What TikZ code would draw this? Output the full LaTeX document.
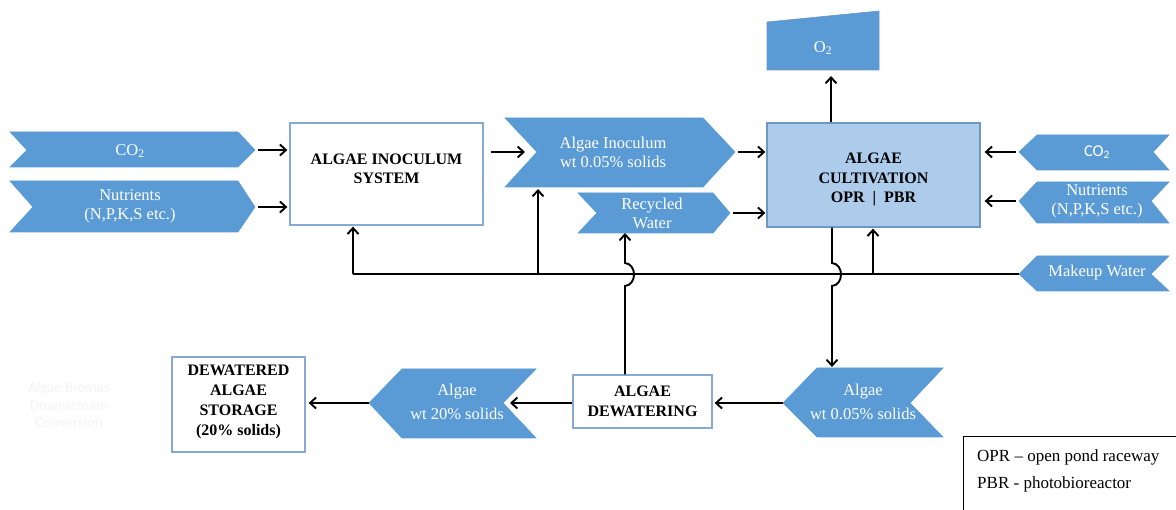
\documentclass[tikz,border=0pt]{standalone}
\usepackage{fontspec}
\setmainfont{Liberation Serif}
\newfontfamily\carl{Carlito}
\usetikzlibrary{arrows.meta}
\definecolor{chev}{HTML}{5B9BD5}
\definecolor{boxline}{HTML}{86A9D6}
\definecolor{cultfill}{HTML}{ADCBEA}
\definecolor{cultline}{HTML}{6E97C6}
\definecolor{faint}{HTML}{F3F4F6}
\begin{document}
\begin{tikzpicture}[x=1pt,y=-1pt,
  chevshape/.style={fill=chev, draw=chev, line width=0.6pt},
  chevtext/.style={text=white, align=center, font=\fontsize{16.5}{19}\selectfont, inner sep=0pt},
  chevtextwide/.style={text=white, align=center, font=\fontsize{16.5}{24}\selectfont, inner sep=0pt},
  boxtitle/.style={align=center, font=\bfseries\fontsize{16}{19.5}\selectfont, inner sep=0pt},
  whitebox/.style={draw=boxline, fill=white, line width=1.3pt, inner sep=0pt},
  flowarrow/.style={line width=1.9pt, -{Straight Barb[length=6pt,width=11pt]}},
  plainline/.style={line width=1.9pt},
  legendtext/.style={anchor=west, inner sep=0pt, font=\fontsize{17}{20}\selectfont}
]
\useasboundingbox (0,0) rectangle (1176,510);
\fill[white] (0,0) rectangle (1176,510);

% faint text
\node[text=faint, align=center, inner sep=0pt, font=\carl\fontsize{15}{17.5}\selectfont] (faintnote) at (69,405) {Algae  Biomas\\Downstream\\Conversion};

% left inputs
\fill[chevshape] (10,132) -- (238,132) -- (255,150) -- (238,167) -- (10,167) -- (27,150) -- cycle;
\node[chevtext] (co2L) at (130,151) {CO\textsubscript{2}};
\coordinate (co2Ltip) at (255,150);
\fill[chevshape] (10,181) -- (238,181) -- (255,207) -- (238,232) -- (10,232) -- (33,207) -- cycle;
\node[chevtext] (nutL) at (130,206) {Nutrients\\(N,P,K,S etc.)};
\coordinate (nutLtip) at (255,207);

% inoculum system
\node[whitebox, minimum width=193pt, minimum height=102pt] (inoc) at (386.5,174) {};
\node[boxtitle] (inoclabel) at (386.5,169) {ALGAE INOCULUM\\SYSTEM};

\draw[flowarrow, shorten <=3pt, shorten >=2pt] (co2Ltip) -- (inoc.west |- co2Ltip);
\draw[flowarrow, shorten <=3pt, shorten >=2pt] (nutLtip) -- (inoc.west |- nutLtip);

% algae inoculum chevron
\fill[chevshape] (505,118) -- (703,118) -- (735,152) -- (703,187) -- (505,187) -- (537,152) -- cycle;
\node[chevtext] (inocchev) at (613,152) {Algae Inoculum\\wt 0.05\% solids};
\coordinate (inocNotch) at (537,152);
\coordinate (inocTip) at (735,152);
\coordinate (inocBot) at (538,187);
\draw[flowarrow, shorten <=7pt, shorten >=12pt] (inoc.east |- inocNotch) -- (inocNotch);

% recycled water chevron
\fill[chevshape] (578,193) -- (713,193) -- (730,213) -- (713,233) -- (578,233) -- (597,213) -- cycle;
\node[chevtext] (recchev) at (652,213) {Recycled\\Water};
\coordinate (recTip) at (730,213);
\coordinate (recBot) at (625,233);

% cultivation
\node[draw=cultline, fill=cultfill, line width=1.3pt, minimum width=213pt, minimum height=104pt, inner sep=0pt] (cult) at (873.5,175) {};
\node[boxtitle] (cultlabel) at (873.5,179.5) {ALGAE\\CULTIVATION\\OPR \ | \ PBR};

\draw[flowarrow, shorten <=3pt, shorten >=1pt] (inocTip) -- (cult.west |- inocTip);
\draw[flowarrow, shorten <=3pt, shorten >=1pt] (recTip) -- (cult.west |- recTip);

% O2
\fill[chevshape, draw=cultline] (767,70) -- (767,22) -- (879,11) -- (879,70) -- cycle;
\node[chevtext] (o2) at (823,48) {O\textsubscript{2}};
\coordinate (o2bot) at (831,70);
\draw[flowarrow, shorten >=6pt] (cult.north -| o2bot) -- (o2bot);

% right inputs
\fill[chevshape] (1019,152) -- (1037,135) -- (1169,135) -- (1153,152) -- (1169,170) -- (1037,170) -- cycle;
\node[chevtext, font=\carl\fontsize{16.5}{19}\selectfont] (co2R) at (1097,152) {CO\textsubscript{2}};
\coordinate (co2Rtip) at (1019,152);
\fill[chevshape] (1019,201) -- (1037,182) -- (1169,182) -- (1151,201) -- (1169,223) -- (1037,223) -- cycle;
\node[chevtext] (nutR) at (1097,201) {Nutrients\\(N,P,K,S etc.)};
\coordinate (nutRtip) at (1019,201);
\fill[chevshape] (1019,274) -- (1037,256) -- (1169,256) -- (1151,274) -- (1169,291) -- (1037,291) -- cycle;
\node[chevtext] (mkw) at (1097,273) {Makeup Water};
\coordinate (mkTip) at (1019,274);

\draw[flowarrow, shorten <=3pt, shorten >=4pt] (co2Rtip) -- (cult.east |- co2Rtip);
\draw[flowarrow, shorten <=3pt, shorten >=4pt] (nutRtip) -- (cult.east |- nutRtip);

% water bus
\coordinate (busL) at (353,274);
\coordinate (busA) at (538,274);
\coordinate (busC) at (873,274);
\draw[plainline] (busL) -- (mkTip);
\draw[flowarrow, shorten >=1pt] (busL) -- (inoc.south -| busL);
\draw[flowarrow, shorten >=2pt] (busA) -- (inocBot);
\draw[flowarrow, shorten >=1pt] (busC) -- (cult.south -| busC);

% dewatering
\node[whitebox, minimum width=139pt, minimum height=53pt] (dew) at (642.5,401.5) {};
\node[boxtitle] (dewlabel) at (642.5,401.5) {ALGAE\\DEWATERING};

% recycle line with hop
\draw[flowarrow] (dew.north -| recBot) -- (625,286) .. controls (637,285) and (637,264) .. (625,263) -- (recBot);

% algae 0.05% chevron
\fill[chevshape] (783,403) -- (817,368) -- (943,368) -- (910,403) -- (943,437) -- (817,437) -- cycle;
\node[chevtextwide] (alg05) at (863,402) {Algae\\wt 0.05\% solids};
\coordinate (alg05tip) at (783,403);
\coordinate (alg05top) at (832,368);

% down line with hop
\draw[flowarrow, shorten >=1pt] (cult.south -| alg05top) -- (832,263) .. controls (844,264) and (844,285) .. (832,286) -- (alg05top);

\draw[flowarrow, shorten >=2pt] (alg05tip) -- (dew.east |- alg05tip);

% algae 20% chevron
\fill[chevshape] (369,403) -- (402,369) -- (536,369) -- (503,403) -- (536,438) -- (402,438) -- cycle;
\node[chevtextwide] (alg20) at (457,402) {Algae\\wt 20\% solids};
\coordinate (alg20tip) at (369,403);
\coordinate (alg20notch) at (503,403);
\draw[flowarrow, shorten >=7pt] (dew.west |- alg20notch) -- (alg20notch);

% storage
\node[whitebox, minimum width=133pt, minimum height=95pt] (stor) at (238.5,404.5) {};
\node[boxtitle, font=\bfseries\fontsize{16}{20}\selectfont] (storlabel) at (238.5,402) {DEWATERED\\ALGAE\\STORAGE\\(20\% solids)};
\draw[flowarrow, shorten >=3pt] (alg20tip) -- (stor.east |- alg20tip);

% legend
\coordinate (legTL) at (963,437);
\draw[line width=1pt] (963,512) -- (legTL) -- (1178,437);
\node[legendtext] (leg1) at (977,457) {OPR – open pond raceway};
\node[legendtext] (leg2) at (977,484) {PBR - photobioreactor};
\end{tikzpicture}
\end{document}
